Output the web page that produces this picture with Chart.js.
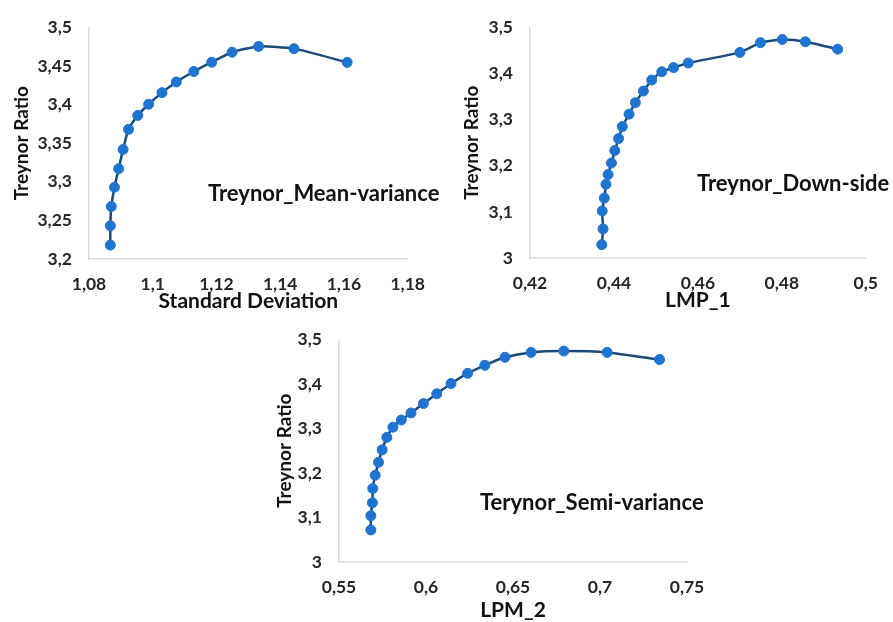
<!DOCTYPE html>
<html>
<head>
<meta charset="utf-8">
<script src="https://cdn.jsdelivr.net/npm/chart.js@4.4.0/dist/chart.umd.min.js"></script>
<style>
  body { margin: 0; background: #fff; width: 893px; height: 622px; position: relative; overflow: hidden; }
  .box { position: absolute; }
  .note { position: absolute; font-family: Lato, sans-serif; font-weight: 700; font-size: 22px; line-height: 26px; color: #111; white-space: nowrap; }
</style>
</head>
<body>
<div class="box" style="left:0;top:0;width:440px;height:312px"><canvas id="c1"></canvas></div>
<div class="box" style="left:440px;top:0;width:453px;height:312px"><canvas id="c2"></canvas></div>
<div class="box" style="left:270px;top:312px;width:480px;height:310px"><canvas id="c3"></canvas></div>
<div class="note" style="left:208px;top:180px">Treynor_Mean-variance</div>
<div class="note" style="left:697px;top:170px">Treynor_Down-side</div>
<div class="note" style="left:480px;top:489px">Terynor_Semi-variance</div>
<script>
// Mean-variance frontier
const mvStd = [1.0867, 1.0867, 1.087, 1.088, 1.0893, 1.0907, 1.0924, 1.0953, 1.0987, 1.1029,
               1.1074, 1.1129, 1.1185, 1.1249, 1.1332, 1.1443, 1.161];
const mvTreynor = [3.218, 3.243, 3.268, 3.293, 3.317, 3.342, 3.368, 3.386, 3.4005, 3.4156,
                   3.4294, 3.443, 3.455, 3.468, 3.4755, 3.4726, 3.4548];
const mvXTicks = [1.08, 1.10, 1.12, 1.14, 1.16, 1.18];
const mvYTicks = [3.2, 3.25, 3.3, 3.35, 3.4, 3.45, 3.5];

// Down-side frontier
const dsLpm1 = [0.4371, 0.4374, 0.4372, 0.4377, 0.4381, 0.4386, 0.4394, 0.4402, 0.4411, 0.4420, 0.4436,
                0.4451, 0.4470, 0.4490, 0.4514, 0.4542, 0.4577, 0.4700, 0.4749, 0.4801, 0.4856, 0.4933];
const dsTreynor = [3.029, 3.063, 3.102, 3.130, 3.160, 3.181, 3.206, 3.233, 3.259, 3.285, 3.312,
                   3.337, 3.362, 3.386, 3.404, 3.413, 3.423, 3.446, 3.467, 3.474, 3.469, 3.453];
const dsXTicks = [0.42, 0.44, 0.46, 0.48, 0.5];
const dsYTicks = [3, 3.1, 3.2, 3.3, 3.4, 3.5];

// Semi-variance frontier
const svLpm2 = [0.5683, 0.5683, 0.5692, 0.5694, 0.5708, 0.5727, 0.5748, 0.5775, 0.5810, 0.5858, 0.5914,
                0.5985, 0.6062, 0.6144, 0.6239, 0.6338, 0.6454, 0.6604, 0.6792, 0.7041, 0.7342];
const svTreynor = [3.072, 3.104, 3.133, 3.165, 3.195, 3.224, 3.252, 3.280, 3.303, 3.319, 3.335,
                   3.356, 3.378, 3.401, 3.424, 3.442, 3.460, 3.471, 3.474, 3.471, 3.455];
const svXTicks = [0.55, 0.6, 0.65, 0.7, 0.75];
const svYTicks = [3, 3.1, 3.2, 3.3, 3.4, 3.5];

const FONT = 'Lato, sans-serif';
const fmt = v => String(Number(v.toFixed(4))).replace('.', ',');

function axis(ticks, title, opts) {
  return {
    type: 'linear',
    min: ticks[0],
    max: ticks[ticks.length - 1],
    afterBuildTicks: s => { s.ticks = ticks.map(v => ({ value: v })); },
    afterFit: s => {
      if (opts.width) s.width = opts.width;
      if (opts.height) s.height = opts.height;
    },
    grid: { display: true, color: 'transparent', drawTicks: false },
    border: { display: true, color: '#d9d9d9', width: 1.5 },
    ticks: {
      padding: opts.tickPad,
      color: '#262626',
      font: { family: FONT, size: 17.5, weight: 'bold' },
      callback: v => fmt(v)
    },
    title: {
      display: true,
      text: title,
      color: '#111',
      font: { family: FONT, size: opts.titleSize, weight: 'bold', lineHeight: 1 },
      padding: opts.titlePad
    }
  };
}

function frontier(id, xs, ys, xTicks, yTicks, xTitle, lay) {
  const points = xs.map((x, i) => ({ x: x, y: ys[i] }));
  new Chart(document.getElementById(id), {
    type: 'scatter',
    data: {
      datasets: [{
        data: points,
        showLine: true,
        tension: 0.2,
        borderColor: '#1a4a78',
        borderWidth: 2.5,
        pointRadius: 5,
        pointBackgroundColor: '#1f74cf',
        pointBorderColor: '#1f74cf',
        pointBorderWidth: 1
      }]
    },
    options: {
      responsive: true,
      maintainAspectRatio: false,
      animation: false,
      layout: { padding: { top: lay.top, right: lay.right, left: 0, bottom: 0 } },
      plugins: { legend: { display: false }, tooltip: { enabled: false } },
      scales: {
        x: axis(xTicks, xTitle, { height: lay.xh, tickPad: 15, titleSize: 21, titlePad: { top: 0, bottom: lay.xt } }),
        y: axis(yTicks, 'Treynor Ratio', { width: lay.yw, tickPad: 17, titleSize: 19, titlePad: { top: lay.yt, bottom: 0 } })
      }
    }
  });
}

frontier('c1', mvStd, mvTreynor, mvXTicks, mvYTicks, 'Standard Deviation',
  { top: 25, right: 13, xh: 53, yw: 89, yt: 12, xt: 0.5 });
frontier('c2', dsLpm1, dsTreynor, dsXTicks, dsYTicks, 'LMP_1',
  { top: 19, right: 16, xh: 54, yw: 90, yt: 22, xt: 1.5 });
frontier('c3', svLpm2, svTreynor, svXTicks, svYTicks, 'LPM_2',
  { top: 18, right: 63, xh: 60, yw: 69, yt: 5, xt: 1.5 });
</script>
</body>
</html>
